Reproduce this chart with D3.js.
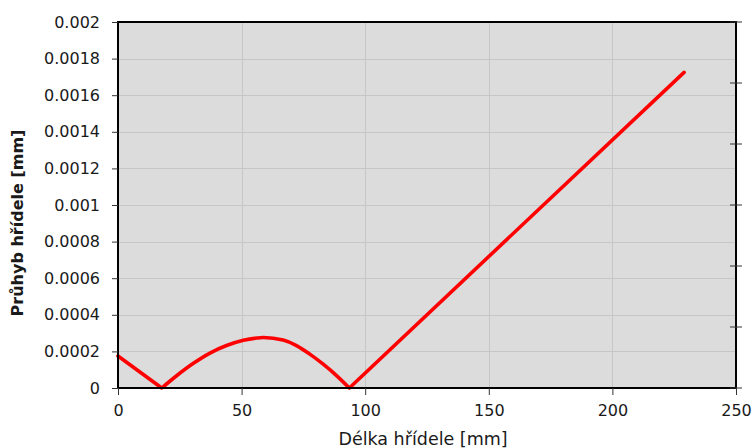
<!DOCTYPE html>
<html>
<head>
<meta charset="utf-8">
<script src="https://cdn.jsdelivr.net/npm/d3@7/dist/d3.min.js"></script>
<style>
  html, body { margin: 0; padding: 0; background: #ffffff; overflow: hidden; }
  svg { display: block; }
  text { font-family: "DejaVu Sans", Verdana, sans-serif; fill: #1a1a1a; }
</style>
</head>
<body>
<svg id="chart" width="753" height="448"></svg>
<script>
// Shaft length positions [mm] and deflection magnitude [mm]
// overhang at the left end (straight)
const overhangX = [0, 17.7];
const overhangY = [0.000175, 0];
// span between the two bearings (curved)
const spanX = [17.7, 23.7, 30.5, 37.2, 43.9, 50.7, 56.1, 58.8, 66.8, 72.2, 77.6, 83.0, 88.4, 93.6];
const spanY = [0, 0.000067, 0.000135, 0.000191, 0.000232, 0.000261, 0.000273, 0.000276, 0.000262, 0.000232, 0.000185, 0.000130, 0.000068, 0];
// free end on the right (straight)
const endX = [93.6, 229.0];
const endY = [0, 0.001725];

const xTicks = [0, 50, 100, 150, 200, 250];
const yTicks = [0, 0.0002, 0.0004, 0.0006, 0.0008, 0.001, 0.0012, 0.0014, 0.0016, 0.0018, 0.002];
const yTickLabels = ["0", "0.0002", "0.0004", "0.0006", "0.0008", "0.001", "0.0012", "0.0014", "0.0016", "0.0018", "0.002"];
const rightTicks = [0, 1, 2, 3, 4, 5, 6];

const xTitle = "Délka hřídele [mm]";
const yTitle = "Průhyb hřídele [mm]";

const margin = { left: 118, top: 22, right: 17, bottom: 60 };
const W = 753, H = 448;
const pw = W - margin.left - margin.right;
const ph = H - margin.top - margin.bottom;

const svg = d3.select("#chart");
const g = svg.append("g").attr("transform", `translate(${margin.left},${margin.top})`);

const x = d3.scaleLinear().domain([0, 250]).range([0, pw]);
const y = d3.scaleLinear().domain([0, 0.002]).range([ph, 0]);
const yRight = d3.scaleLinear().domain([0, 6]).range([ph, 0]);

// plot background
g.append("rect").attr("width", pw).attr("height", ph).attr("fill", "#dcdcdc");

// grid
g.append("g").selectAll("line").data(yTicks.slice(1, -1)).join("line")
  .attr("x1", 0).attr("x2", pw)
  .attr("y1", d => Math.round(y(d)) + 0.5).attr("y2", d => Math.round(y(d)) + 0.5)
  .attr("stroke", "#c6c6c6").attr("stroke-width", 1);
g.append("g").selectAll("line").data(xTicks.slice(1, -1)).join("line")
  .attr("y1", 0).attr("y2", ph)
  .attr("x1", d => Math.round(x(d)) + 0.5).attr("x2", d => Math.round(x(d)) + 0.5)
  .attr("stroke", "#c6c6c6").attr("stroke-width", 1);

// deflection curve: straight overhangs, smooth span, joined into one path
const toPts = (xs, ys) => xs.map((d, i) => [d, ys[i]]);
const straight = d3.line().x(d => x(d[0])).y(d => y(d[1])).curve(d3.curveLinear);
const smooth = d3.line().x(d => x(d[0])).y(d => y(d[1])).curve(d3.curveMonotoneX);
const pathD = straight(toPts(overhangX, overhangY))
  + "L" + smooth(toPts(spanX, spanY)).slice(1)
  + "L" + straight(toPts(endX, endY)).slice(1);
g.append("path")
  .attr("fill", "none")
  .attr("stroke", "#ff0000")
  .attr("stroke-width", 3.6)
  .attr("stroke-linejoin", "round")
  .attr("stroke-linecap", "round")
  .attr("d", pathD);

// frame
g.append("rect").attr("width", pw).attr("height", ph)
  .attr("fill", "none").attr("stroke", "#000").attr("stroke-width", 2);

// left axis
const yAxis = d3.axisLeft(y).tickValues(yTicks)
  .tickFormat((d, i) => yTickLabels[i]).tickSizeOuter(0).tickSizeInner(6).tickPadding(12);
const ya = g.append("g").call(yAxis);
ya.select(".domain").remove();
ya.selectAll(".tick line").attr("stroke", "#333");
ya.selectAll(".tick text").style("font-size", "16px").attr("fill", "#1a1a1a");

// bottom axis
const xAxis = d3.axisBottom(x).tickValues(xTicks).tickSizeOuter(0).tickSizeInner(7).tickPadding(10);
const xa = g.append("g").attr("transform", `translate(0,${ph})`).call(xAxis);
xa.select(".domain").remove();
xa.selectAll(".tick line").attr("stroke", "#333");
xa.selectAll(".tick text").style("font-size", "16px").attr("fill", "#1a1a1a");

// right axis: crossing ticks, no labels
const ra = g.append("g").attr("transform", `translate(${pw},0)`);
ra.selectAll("line").data(rightTicks).join("line")
  .attr("x1", -6).attr("x2", 6)
  .attr("y1", d => yRight(d)).attr("y2", d => yRight(d))
  .attr("stroke", "#333").attr("stroke-width", 1);

// axis titles
svg.append("text")
  .attr("x", margin.left + pw / 2 - 4)
  .attr("y", H - 3)
  .attr("text-anchor", "middle")
  .style("font-size", "17.5px")
  .text(xTitle);

svg.append("text")
  .attr("transform", `translate(23,223) rotate(-90)`)
  .attr("text-anchor", "middle")
  .style("font-size", "16px")
  .style("font-weight", "bold")
  .text(yTitle);
</script>
</body>
</html>
